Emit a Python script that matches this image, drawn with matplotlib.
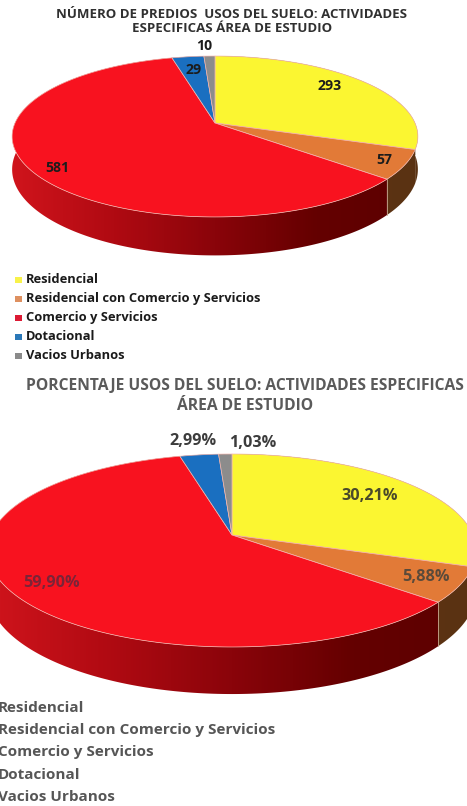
import numpy as np
import matplotlib
matplotlib.use("Agg")
import matplotlib.pyplot as plt
from matplotlib.colors import LinearSegmentedColormap
from matplotlib.patches import Polygon, Rectangle

plt.rcParams["font.family"] = ["Open Sans", "DejaVu Sans"]

categories = ["Residencial", "Residencial con Comercio y Servicios",
              "Comercio y Servicios", "Dotacional", "Vacios Urbanos"]
predios = [293, 57, 581, 29, 10]
porcentajes = [30.21, 5.88, 59.90, 2.99, 1.03]
etiquetas_predios = ["293", "57", "581", "29", "10"]
etiquetas_porcentajes = ["30,21%", "5,88%", "59,90%", "2,99%", "1,03%"]

titulo_predios = "NÚMERO DE PREDIOS  USOS DEL SUELO: ACTIVIDADES\nESPECIFICAS ÁREA DE ESTUDIO"
titulo_porcentajes = "PORCENTAJE USOS DEL SUELO: ACTIVIDADES ESPECIFICAS\nÁREA DE ESTUDIO"

top_colors = ["#fbf631", "#e27a37", "#f8121f", "#1a6fc0", "#8c8c8c"]
legend_colors = ["#f8f24a", "#de9060", "#dc1a34", "#2a78b8", "#8a8a8a"]
side_maps = [
    LinearSegmentedColormap.from_list("s0", ["#5a3212", "#5a3212"]),
    LinearSegmentedColormap.from_list("s1", ["#6a3c14", "#5a3212"]),
    LinearSegmentedColormap.from_list("s2", ["#d0141c", "#b00a12", "#8a040a", "#640000", "#5c0000"]),
    LinearSegmentedColormap.from_list("s3", ["#124a80", "#124a80"]),
    LinearSegmentedColormap.from_list("s4", ["#555555", "#555555"]),
]


def project(theta, cx, cy, rx, ry, persp):
    """Perspective projection of a circle point; theta runs clockwise from the top."""
    u, v = np.sin(theta), np.cos(theta)
    w = 1 + persp * v
    return cx + rx * u / w, cy - ry * v / w, w


def draw_pie(ax, values, cx, cy, rx, ry, persp, depth):
    edges = np.concatenate([[0], np.cumsum(values)]) / np.sum(values) * 2 * np.pi
    half = rx / np.sqrt(1 - persp ** 2)
    ramp = np.linspace(0, 1, 256).reshape(1, -1)
    top = cy - ry / (1 - persp) - 5
    bottom = cy + (ry + depth) / (1 - persp) + 5
    for i, (a, b) in enumerate(zip(edges[:-1], edges[1:])):
        th = np.linspace(a, b, max(int((b - a) * 60), 6))
        x, y, w = project(th, cx, cy, rx, ry, persp)
        yb = y + depth / w
        wall = Polygon(np.column_stack([np.r_[x, x[::-1]], np.r_[y, yb[::-1]]]), closed=True,
                       fc="none", ec="none", transform=ax.transData)
        ax.add_patch(wall)
        # Shaded wall: left-to-right ramp clipped to the slice's side
        im = ax.imshow(ramp, cmap=side_maps[i], extent=(cx - half, cx + half, bottom, top),
                       aspect="auto", zorder=2, interpolation="bilinear")
        im.set_clip_path(wall)
    for i, (a, b) in enumerate(zip(edges[:-1], edges[1:])):
        th = np.linspace(a, b, max(int((b - a) * 60), 6))
        x, y, _ = project(th, cx, cy, rx, ry, persp)
        pts = np.column_stack([np.r_[cx, x], np.r_[cy, y]])
        ax.add_patch(Polygon(pts, closed=True, fc=top_colors[i], ec="#f4b8b0", lw=0.5, zorder=3))
    # Seam between the orange and red walls
    x, y, w = project(edges[2], cx, cy, rx, ry, persp)
    ax.plot([x, x], [y, y + depth / w], color="#c8a890", lw=0.6, zorder=3)


fig = plt.figure(figsize=(4.67, 8.06), dpi=100)
ax = fig.add_axes([0, 0, 1, 1])

PX = 0.72


def label(x, y, s, size, color, **kw):
    ax.text(x, y, s, fontsize=size * PX, color=color, ha=kw.pop("ha", "center"), va="center",
            fontweight="bold", zorder=5, **kw)


# Upper pie: number of parcels
label(232, 21.5, titulo_predios, 13.3, "#303030", linespacing=1.19)
draw_pie(ax, predios, 215, 123, 200, 78.2, 0.1677, 32)
for (px, py), s in zip([(330, 86), (384, 160), (57, 168), (194, 70), (204, 46)], etiquetas_predios):
    label(px, py, s, 14, "#1c1c1c")

# Upper legend
for i, (name, c) in enumerate(zip(categories, legend_colors)):
    yy = 279.5 + 19 * i
    ax.add_patch(Rectangle((15, yy - 3), 7, 6, fc=c, ec="none", zorder=4))
    label(26, yy, name, 12.9, "#1a1a1a", ha="left")

# Lower pie: share of parcels
label(245, 396, titulo_porcentajes, 15.6, "#5a5a5a", linespacing=1.26)
draw_pie(ax, porcentajes, 232, 535, 241, 94, 0.1606, 39.5)
pct_colors = ["#4a4a2a", "#5a4a3a", "#7a2438", "#3c3c3c", "#3c3c3c"]
for (px, py), s, c in zip([(370, 496), (426, 577), (51, 583), (193, 441), (253, 443)],
                          etiquetas_porcentajes, pct_colors):
    label(px, py, s, 16.2, c)

# Lower legend, running off the left side of the page
for i, name in enumerate(categories):
    yy = 708 + 22.2 * i
    label(-2, yy, name, 15.2, "#565656", ha="left")

ax.set_xlim(0, 467)
ax.set_ylim(806, 0)
ax.axis("off")

fig.savefig("out.png", dpi=100)
